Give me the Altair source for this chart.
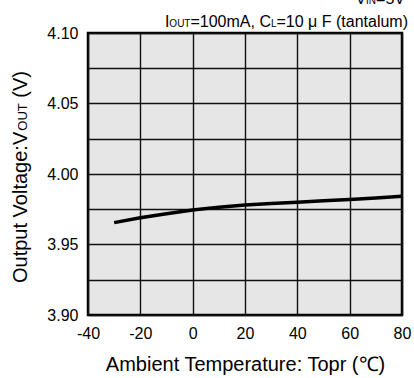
import altair as alt
import pandas as pd

# ---- data ----
temps = [-30, -20, -10, 0, 10, 20, 30, 40, 50, 60, 70, 80]
vout = [3.9655, 3.969, 3.9718, 3.9745, 3.9765, 3.978, 3.979, 3.980, 3.981, 3.982, 3.983, 3.9843]
x_ticks = [-40, -20, 0, 20, 40, 60, 80]
y_grid = [3.9, 3.925, 3.95, 3.975, 4.0, 4.025, 4.05, 4.075, 4.1]

FONT = "Liberation Sans"
W, H = 314, 282

# Arial / Liberation Sans advance widths (per 1000 em) for layout of sub-scripted text
AW = {' ': 278, '(': 333, ')': 333, ',': 278, '.': 278, ':': 278, '=': 584,
      'A': 667, 'C': 722, 'F': 611, 'I': 278, 'L': 556, 'N': 722, 'O': 778,
      'T': 611, 'U': 722, 'V': 667, 'a': 556, 'b': 556, 'e': 556, 'g': 556,
      'i': 222, 'l': 222, 'm': 833, 'n': 556, 'o': 556, 'p': 556, 'r': 333,
      't': 278, 'u': 556, 'μ': 576}
for d in '0123456789':
    AW[d] = 556


def tw(s, size):
    return sum(AW.get(c, 556) for c in s) * size / 1000.0


one = alt.Data(values=[{"k": 0}])


def text_piece(s, x, y, size, angle=None):
    kw = dict(text=s.strip(), fontSize=size, font=FONT, align="left",
              baseline="alphabetic", color="black")
    if angle is not None:
        kw["angle"] = angle
    return alt.Chart(one).mark_text(**kw).encode(x=alt.value(x), y=alt.value(y))


def lead(s, size):
    return tw(s[:len(s) - len(s.lstrip())], size)


def hrow(pieces, right_x, base_y):
    total = sum(tw(s, sz) for s, sz in pieces)
    x = right_x - total
    out = []
    for s, sz in pieces:
        out.append(text_piece(s, x + lead(s, sz), base_y, sz))
        x += tw(s, sz)
    return out


def vcol(pieces, bottom_y, base_x):
    y = bottom_y
    out = []
    for s, sz in pieces:
        out.append(text_piece(s, base_x, y - lead(s, sz), sz, angle=270))
        y -= tw(s, sz)
    return out


df = pd.DataFrame({"t": temps, "v": vout})

xs = alt.Scale(domain=[-40, 80], nice=False, zero=False)
ys = alt.Scale(domain=[3.9, 4.1], nice=False, zero=False)

line = alt.Chart(df).mark_line(color="black", strokeWidth=3.5).encode(
    x=alt.X("t:Q", scale=xs, axis=alt.Axis(
        values=x_ticks, title="Ambient Temperature: Topr (℃)", grid=True,
        titleFontSize=20, titleFontWeight="normal", titleY=55,
        titleBaseline="alphabetic", labelFontSize=16, labelPadding=10,
        ticks=False, domain=False, labelFlush=False,
        labelExpr="datum.value < 0 ? '-' + abs(datum.value) : '' + datum.value")),
    y=alt.Y("v:Q", scale=ys, axis=alt.Axis(
        values=y_grid, title=None, grid=True, labelFontSize=16,
        labelPadding=10, ticks=False, domain=False,
        labelExpr="abs(datum.value*20 - round(datum.value*20)) < 0.001 ? format(datum.value, '.2f') : ''")),
)

annos = []
annos += hrow([("V", 16), ("IN", 10), ("=5V", 16)], 317, -29)
annos += hrow([("I", 16), ("OUT", 10), ("=100mA, C", 16), ("L", 10),
               ("=10 μ F (tantalum)", 16)], 320, -6)
annos += vcol([("Output Voltage:V", 20), ("OUT", 13), (" (V)", 20)], 250, -61)

chart = alt.layer(line, *annos).properties(
    width=W, height=H,
    autosize=alt.AutoSizeParams(type="none"),
    padding={"left": 88, "top": 33, "right": 12, "bottom": 63},
    background="white",
).configure_view(
    fill="#e6e6e6", stroke="black", strokeWidth=2.5
).configure_axis(
    gridColor="#111111", gridWidth=1.4, gridOpacity=1,
    labelFont=FONT, titleFont=FONT, labelColor="black", titleColor="black",
).configure_text(font=FONT)

chart.save("out.html", embed_options={"renderer": "svg", "actions": False})
